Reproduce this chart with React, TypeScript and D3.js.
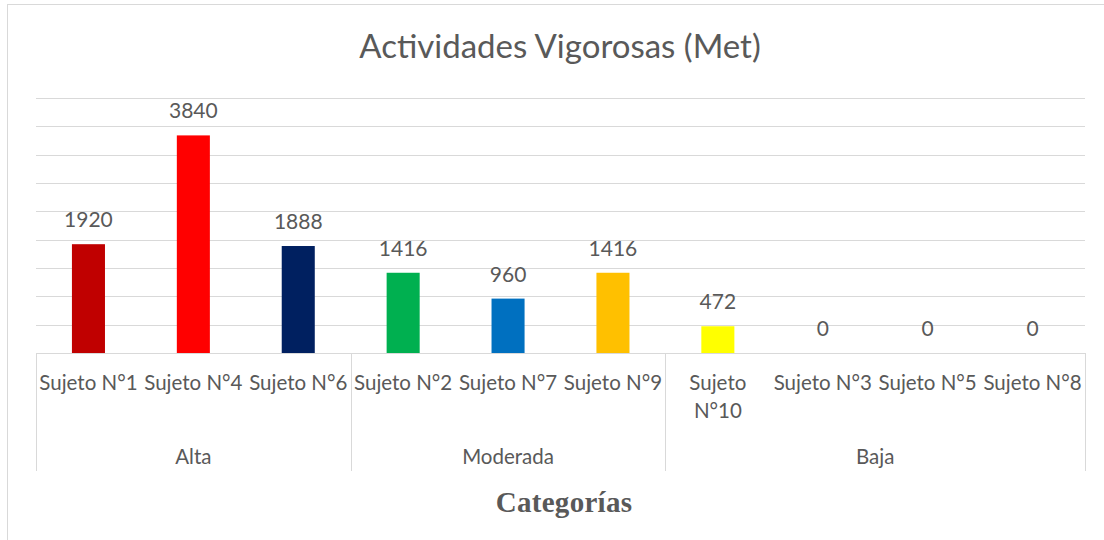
import * as d3 from "d3";

const subjects = ["Sujeto N°1", "Sujeto N°4", "Sujeto N°6", "Sujeto N°2", "Sujeto N°7", "Sujeto N°9", "Sujeto N°10", "Sujeto N°3", "Sujeto N°5", "Sujeto N°8"];
const values = [1920, 3840, 1888, 1416, 960, 1416, 472, 0, 0, 0];
const barColors = ["#C00000", "#FF0000", "#002060", "#00B050", "#0070C0", "#FFC000", "#FFFF00", "#7030A0", "#A5A5A5", "#5B9BD5"];
const groups = ["Alta", "Moderada", "Baja"];
const groupSizes = [3, 3, 4];
const yTicks = [0, 500, 1000, 1500, 2000, 2500, 3000, 3500, 4000, 4500];

const W = 1104;
const H = 540;
const FONT = "Lato, 'Open Sans', sans-serif";
const TEXT = "#595959";
const GRID = "#d9d9d9";

export default function App() {
    const left = 36;
    const right = 1085;
    const baseY = 353;
    const topY = 98;
    const axisBottom = 471;

    const x = d3.scaleBand<number>().domain(d3.range(subjects.length)).range([left, right]).paddingInner(0).paddingOuter(0);
    const y = d3.scaleLinear().domain([0, 4500]).range([baseY, topY]);
    const bw = x.bandwidth() * 0.315;

    // group boundaries
    const bounds: number[] = [0];
    groupSizes.forEach((s, i) => bounds.push(bounds[i] + s));
    const edgeX = (i: number) => (i >= subjects.length ? right : x(i)!);

    return (
        <svg width={W} height={H} style={{ position: "absolute", left: 0, top: 0, background: "#fff" }}>
            <rect x={7.5} y={4.5} width={W} height={H} fill="#fff" stroke={GRID} />
            <text x={560} y={58} textAnchor="middle" fontFamily={FONT} fontSize={33} fill={TEXT}>
                Actividades Vigorosas (Met)
            </text>

            {yTicks.map(t => (
                <line key={t} x1={left} x2={right} y1={Math.round(y(t)) + 0.5} y2={Math.round(y(t)) + 0.5} stroke={GRID} strokeWidth={1} />
            ))}

            {bounds.map((b, i) => (
                <line key={"sep" + i} x1={Math.round(edgeX(b)) + 0.5} x2={Math.round(edgeX(b)) + 0.5} y1={baseY} y2={axisBottom} stroke={GRID} strokeWidth={1} />
            ))}

            {values.map((v, i) => {
                const cx = x(i)! + x.bandwidth() / 2;
                return (
                    <g key={i}>
                        <rect x={cx - bw / 2} y={y(v)} width={bw} height={baseY - y(v)} fill={barColors[i]} />
                        <text x={cx} y={y(v) - 17} textAnchor="middle" fontFamily={FONT} fontSize={21} fill={TEXT}>
                            {v}
                        </text>
                    </g>
                );
            })}

            {subjects.map((s, i) => {
                const cx = x(i)! + x.bandwidth() / 2;
                const lines = s.length > 10 ? s.split(" ").reduce<string[]>((acc, w, k) => {
                    if (k <= 1) acc.push(w);
                    else acc[acc.length - 1] += " " + w;
                    return acc;
                }, []) : [s];
                return (
                    <text key={s} x={cx} y={390} textAnchor="middle" fontFamily={FONT} fontSize={20.5} fill={TEXT}>
                        {lines.map((l, k) => (
                            <tspan key={k} x={cx} dy={k === 0 ? 0 : 28}>{l}</tspan>
                        ))}
                    </text>
                );
            })}

            {groups.map((g, i) => {
                const cx = (edgeX(bounds[i]) + edgeX(bounds[i + 1])) / 2;
                return (
                    <text key={g} x={cx} y={464} textAnchor="middle" fontFamily={FONT} fontSize={20.5} fill={TEXT}>
                        {g}
                    </text>
                );
            })}

            <text x={564} y={512} textAnchor="middle" fontFamily="'Liberation Serif', 'Times New Roman', serif" fontWeight="bold" fontSize={29} letterSpacing={0.3} fill={TEXT}>
                Categorías
            </text>
        </svg>
    );
}
